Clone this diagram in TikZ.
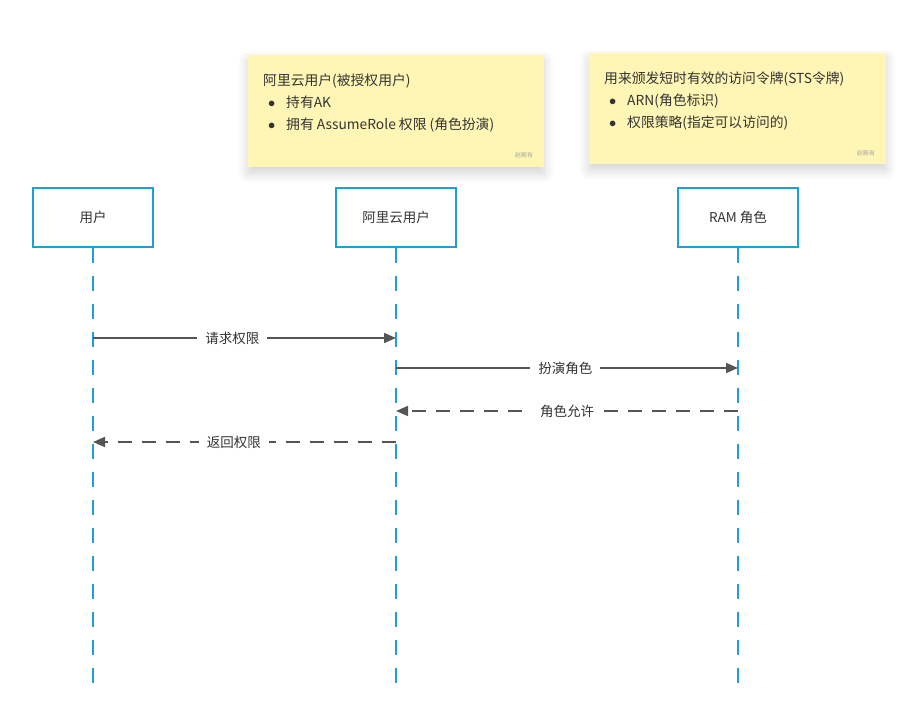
\documentclass[tikz,border=0pt]{standalone}
\usepackage{fontspec}
\setmainfont{Noto Sans CJK SC}
\usepackage{tikz}
\usetikzlibrary{arrows.meta,shadows.blur}

\definecolor{lifeblue}{HTML}{1E9FDC}
\definecolor{notefill}{HTML}{FFF6B5}
\definecolor{msggray}{HTML}{555555}
\definecolor{txtgray}{HTML}{333333}

\tikzset{
  actor/.style = {draw = lifeblue, line width = 2pt, fill = white, minimum width = 120pt,
                  minimum height = 59pt, inner sep = 0pt, text = txtgray, font = \fontsize{13.5}{16}\selectfont},
  lifeline/.style = {lifeblue, line width = 2pt, dash pattern = on 15pt off 13pt},
  note/.style = {fill = notefill, draw = none,
                 blur shadow = {shadow xshift = 0pt, shadow yshift = -6pt, shadow blur radius = 10pt,
                                shadow blur steps = 16, shadow opacity = 18}},
  notetext/.style = {anchor = base west, inner sep = 0pt, text = txtgray, font = \fontsize{13.8}{16}\selectfont},
  signmark/.style = {anchor = center, inner sep = 0pt, text = gray!70, font = \fontsize{6}{7}\selectfont},
  msg/.style = {msggray, line width = 1.6pt, -{Triangle[length = 12pt, width = 10pt]}},
  reply/.style = {msg, dash pattern = on 14pt off 10pt},
  msglabel/.style = {fill = white, inner xsep = 8pt, inner ysep = 3pt, text = txtgray, font = \fontsize{13.5}{16}\selectfont}
}
\newcommand{\notebullet}{\makebox[19pt][l]{\hspace{1pt}$\bullet$}}

\begin{document}
\begin{tikzpicture}[x = 1pt, y = -1pt]
\useasboundingbox (0,0) rectangle (908,727);

% sticky notes
\fill [note] (248,55) rectangle (544,167);
\node [notetext] (n1a) at (263,86) {阿里云用户(被授权用户)};
\node [notetext] (n1b) at (267,108) {\notebullet 持有AK};
\node [notetext] (n1c) at (267,130) {\notebullet 拥有 AssumeRole 权限 (角色扮演)};
\node [signmark] (w1) at (524,155) {赵殿有};

\fill [note] (589,53) rectangle (886,164);
\node [notetext] (n2a) at (604,84) {用来颁发短时有效的访问令牌(STS令牌)};
\node [notetext] (n2b) at (608,106) {\notebullet ARN(角色标识)};
\node [notetext] (n2c) at (608,128) {\notebullet 权限策略(指定可以访问的)};
\node [signmark] (w2) at (866,153) {赵殿有};

% participants
\node [actor] (user) at (93,217.5) {用户};
\node [actor] (aliuser) at (396,217.5) {阿里云用户};
\node [actor] (ram) at (738,217.5) {RAM 角色};

\coordinate (userend) at (93,683);
\coordinate (aliend) at (396,683);
\coordinate (ramend) at (738,683);

\draw [lifeline] (user.south) -- (userend);
\draw [lifeline] (aliuser.south) -- (aliend);
\draw [lifeline] (ram.south) -- (ramend);

% message points
\coordinate (u1) at (93,338);
\coordinate (a1) at (396,338);
\coordinate (a2) at (396,368);
\coordinate (r2) at (738,368);
\coordinate (r3) at (738,411);
\coordinate (a3) at (396,411);
\coordinate (a4) at (396,442);
\coordinate (u4) at (93,442);

\draw [msg] (u1) -- node [msglabel, pos = 0.46] (m1) {请求权限} (a1);
\draw [msg] (a2) -- node [msglabel, pos = 0.495] (m2) {扮演角色} (r2);
\draw [reply] (r3) -- node [msglabel, pos = 0.5] (m3) {角色允许} (a3);
\draw [reply] (a4) -- node [msglabel, pos = 0.535] (m4) {返回权限} (u4);
\end{tikzpicture}
\end{document}
